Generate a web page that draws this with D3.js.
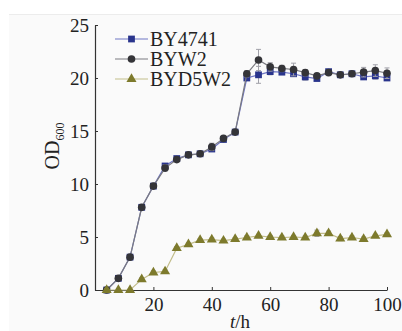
<!DOCTYPE html>
<html lang="en">
<head>
<meta charset="UTF-8">
<title>OD600 growth curves</title>
<script src="https://d3js.org/d3.v7.min.js"></script>
<style>
    body { margin: 0; background: #ffffff; }
    svg { display: block; }
    text { font-family: "Liberation Serif", "Times New Roman", serif; fill: #222; }
</style>
</head>
<body>
<svg width="402" height="331"></svg>
<script>
// sampling times (h)
const hours = [4, 8, 12, 16, 20, 24, 28, 32, 36, 40, 44, 48, 52, 56, 60, 64, 68, 72, 76, 80, 84, 88, 92, 96, 100];

const by4741 = [0, 1.1, 3.1, 7.8, 9.8, 11.7, 12.4, 12.75, 12.85, 13.3, 14.2, 14.9, 20.0, 20.3, 20.6, 20.55, 20.4, 20.1, 19.95, 20.6, 20.3, 20.4, 20.1, 20.2, 20.0];
const by4741Err = [0.1, 0.15, 0.15, 0.15, 0.15, 0.2, 0.2, 0.15, 0.15, 0.2, 0.2, 0.15, 0.2, 0.8, 0.3, 0.2, 0.2, 0.3, 0.2, 0.2, 0.15, 0.15, 0.2, 0.3, 0.2];

const byw2 = [0, 1.1, 3.1, 7.8, 9.8, 11.5, 12.3, 12.75, 12.85, 13.5, 14.3, 14.9, 20.4, 21.7, 21.05, 20.9, 20.8, 20.5, 20.2, 20.5, 20.3, 20.4, 20.55, 20.7, 20.45];
const byw2Err = [0.1, 0.15, 0.15, 0.15, 0.15, 0.3, 0.2, 0.15, 0.15, 0.35, 0.2, 0.15, 0.3, 1.0, 0.4, 0.3, 0.6, 0.3, 0.2, 0.2, 0.15, 0.15, 0.45, 0.55, 0.5];

const byd5w2 = [0, 0, 0, 1.0, 1.65, 1.75, 3.95, 4.3, 4.7, 4.75, 4.65, 4.8, 4.95, 5.1, 5.0, 4.95, 5.0, 4.95, 5.35, 5.35, 4.85, 4.95, 4.8, 5.1, 5.25];
const byd5w2Err = [0.1, 0.1, 0.1, 0.15, 0.15, 0.15, 0.15, 0.15, 0.15, 0.15, 0.15, 0.15, 0.15, 0.15, 0.15, 0.15, 0.15, 0.15, 0.3, 0.2, 0.2, 0.15, 0.2, 0.15, 0.15];

const xTicks = [20, 40, 60, 80, 100];
const yTicks = [0, 5, 10, 15, 20, 25];

const svg = d3.select("svg");

// page panel
svg.append("rect").attr("x", 9).attr("y", 14).attr("width", 393).attr("height", 317)
    .attr("fill", "#fafafa");
svg.append("line").attr("x1", 9).attr("x2", 402).attr("y1", 14.5).attr("y2", 14.5)
    .attr("stroke", "#ececec");

const x = d3.scaleLinear().domain([0, 100]).range([95, 387]);
const y = d3.scaleLinear().domain([0, 25]).range([290, 25]);

// axes (ticks point inward)
svg.append("g")
    .attr("transform", "translate(0,290)")
    .call(d3.axisBottom(x).tickValues(xTicks).tickSizeInner(-3).tickSizeOuter(0).tickPadding(8))
    .call(g => g.select(".domain").attr("stroke", "#333").attr("stroke-width", 1.2))
    .call(g => g.selectAll(".tick line").attr("stroke", "#333"))
    .call(g => g.selectAll("text").attr("font-size", 19).attr("fill", "#222")
        .style("font-family", "'Liberation Serif', serif"));

svg.append("g")
    .attr("transform", "translate(95,0)")
    .call(d3.axisLeft(y).tickValues(yTicks).tickSizeInner(-3).tickSizeOuter(0).tickPadding(6))
    .call(g => g.select(".domain").attr("stroke", "#333").attr("stroke-width", 1.2))
    .call(g => g.selectAll(".tick line").attr("stroke", "#333"))
    .call(g => g.selectAll("text").attr("font-size", 19).attr("fill", "#222")
        .style("font-family", "'Liberation Serif', serif"));

// axis titles
svg.append("text")
    .attr("x", 240).attr("y", 328)
    .attr("text-anchor", "middle").attr("font-size", 19)
    .html('<tspan font-style="italic">t</tspan>/h');

const yTitle = svg.append("text")
    .attr("transform", "translate(59,146) rotate(-90)")
    .attr("text-anchor", "middle").attr("font-size", 20);
yTitle.append("tspan").text("OD");
yTitle.append("tspan").attr("font-size", 12).attr("dy", 5).text("600");

const series = [
    { name: "BY4741", values: by4741, err: by4741Err, line: "#6f76c4", marker: "#29348c", shape: d3.symbolSquare, size: 46 },
    { name: "BYW2", values: byw2, err: byw2Err, line: "#7a7a80", marker: "#343438", shape: d3.symbolCircle, size: 46 },
    { name: "BYD5W2", values: byd5w2, err: byd5w2Err, line: "#c2bd8a", marker: "#7d7a2c", shape: d3.symbolTriangle, size: 44 }
];

const line = d3.line().x(d => x(d[0])).y(d => y(d[1]));

series.forEach(s => {
    const pts = hours.map((h, i) => [h, s.values[i], s.err[i]]);
    const g = svg.append("g");

    // error bars
    const eb = g.selectAll(".eb").data(pts).enter().append("g").attr("stroke", "#a0a0a8").attr("stroke-width", 1);
    eb.append("line").attr("x1", d => x(d[0])).attr("x2", d => x(d[0]))
        .attr("y1", d => y(d[1] - d[2])).attr("y2", d => y(d[1] + d[2]));
    eb.append("line").attr("x1", d => x(d[0]) - 2.5).attr("x2", d => x(d[0]) + 2.5)
        .attr("y1", d => y(d[1] + d[2])).attr("y2", d => y(d[1] + d[2]));
    eb.append("line").attr("x1", d => x(d[0]) - 2.5).attr("x2", d => x(d[0]) + 2.5)
        .attr("y1", d => y(d[1] - d[2])).attr("y2", d => y(d[1] - d[2]));

    g.append("path").datum(pts)
        .attr("fill", "none").attr("stroke", s.line).attr("stroke-width", 1.2)
        .attr("d", line);

    g.selectAll(".m").data(pts).enter().append("path")
        .attr("transform", d => `translate(${x(d[0])},${y(d[1])})`)
        .attr("d", d3.symbol().type(s.shape).size(s.size))
        .attr("fill", s.marker);
});

// legend
const legend = svg.append("g");
series.forEach((s, i) => {
    const ly = 39 + i * 20;
    legend.append("line").attr("x1", 115).attr("x2", 148).attr("y1", ly).attr("y2", ly)
        .attr("stroke", s.line).attr("stroke-width", 1.2);
    legend.append("path").attr("transform", `translate(131.5,${ly})`)
        .attr("d", d3.symbol().type(s.shape).size(s.size)).attr("fill", s.marker);
    legend.append("text").attr("x", 150).attr("y", ly + 6.5).attr("font-size", 20).text(s.name);
});
</script>
</body>
</html>
